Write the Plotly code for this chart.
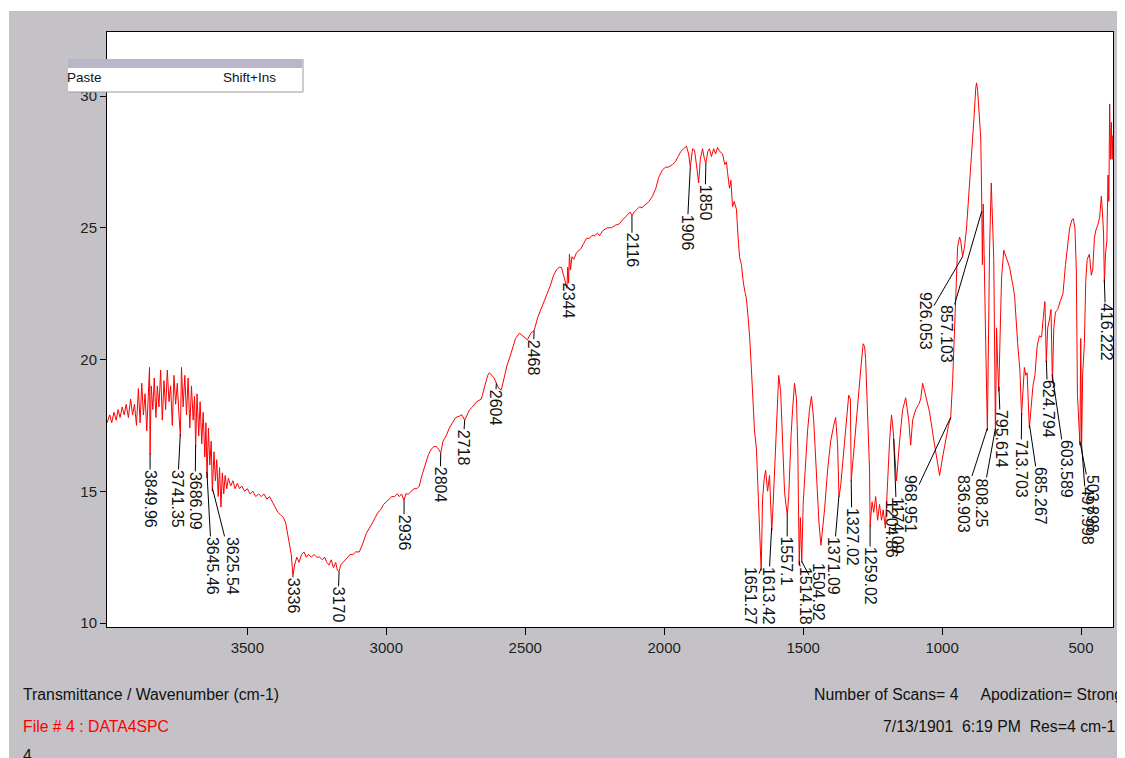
import numpy as np
import plotly.graph_objects as go

# ---------------- data ----------------
wavenumber = [
    4005, 3995, 3988, 3980, 3972, 3965, 3958, 3950, 3943, 3936, 3928, 3920, 3913, 3906, 3899,
    3892, 3886, 3880, 3874, 3868, 3862, 3856, 3852, 3850, 3846, 3840, 3835, 3829, 3824, 3818,
    3812, 3806, 3800, 3794, 3788, 3782, 3776, 3770, 3764, 3758, 3752, 3746, 3741, 3737, 3731,
    3725, 3719, 3713, 3707, 3701, 3695, 3690, 3686, 3681, 3675, 3670, 3664, 3659, 3653, 3649,
    3645, 3640, 3635, 3630, 3626, 3620, 3615, 3610, 3605, 3600, 3595, 3590, 3585, 3580, 3574,
    3568, 3560, 3552, 3544, 3536, 3528, 3520, 3510, 3500, 3490, 3480, 3470, 3460, 3450, 3440,
    3430, 3420, 3410, 3400, 3390, 3380, 3370, 3362, 3355, 3348, 3342, 3336, 3330, 3322, 3314,
    3305, 3296, 3288, 3280, 3270, 3260, 3250, 3240, 3230, 3222, 3214, 3206, 3198, 3190, 3182,
    3176, 3170, 3164, 3156, 3148, 3140, 3130, 3120, 3110, 3097, 3085, 3072, 3060, 3050, 3040,
    3030, 3020, 3010, 3000, 2990, 2980, 2970, 2960, 2953, 2945, 2936, 2930, 2920, 2910, 2900,
    2890, 2881, 2872, 2864, 2856, 2848, 2838, 2828, 2820, 2812, 2804, 2796, 2785, 2773, 2762,
    2750, 2737, 2728, 2718, 2710, 2700, 2690, 2675, 2658, 2645, 2635, 2629, 2620, 2612, 2604,
    2595, 2586, 2575, 2565, 2555, 2546, 2535, 2521, 2510, 2500, 2492, 2480, 2468, 2455, 2440,
    2424, 2410, 2398, 2388, 2378, 2370, 2362, 2355, 2350, 2347, 2344, 2341, 2337, 2332, 2325,
    2316, 2300, 2290, 2280, 2270, 2260, 2250, 2240, 2233, 2220, 2205, 2190, 2175, 2161, 2150,
    2140, 2130, 2122, 2116, 2108, 2098, 2089, 2080, 2072, 2064, 2055, 2042, 2030, 2020, 2010,
    2006, 1995, 1985, 1970, 1960, 1950, 1940, 1930, 1920, 1912, 1906, 1898, 1891, 1884, 1876,
    1870, 1862, 1855, 1850, 1843, 1837, 1830, 1822, 1815, 1808, 1800, 1790, 1782, 1776, 1772,
    1765, 1760, 1754, 1748, 1740, 1735, 1729, 1722, 1715, 1708, 1704, 1698, 1692, 1686, 1680,
    1675, 1668, 1662, 1657, 1651, 1646, 1640, 1635, 1628, 1621, 1617, 1613, 1608, 1603, 1596,
    1588, 1581, 1574, 1567, 1562, 1557, 1552, 1549, 1543, 1538, 1531, 1524, 1519, 1517, 1514,
    1510, 1505, 1500, 1495, 1488, 1484, 1477, 1470, 1462, 1452, 1443, 1436, 1430, 1423, 1412,
    1401, 1390, 1383, 1376, 1371, 1365, 1358, 1347, 1336, 1330, 1327, 1322, 1315, 1304, 1293,
    1284, 1279, 1275, 1268, 1261, 1259, 1252, 1246, 1239, 1232, 1225, 1218, 1212, 1204, 1196,
    1189, 1182, 1176, 1171, 1164, 1153, 1142, 1131, 1120, 1113, 1106, 1095, 1084, 1077, 1070,
    1063, 1056, 1045, 1030, 1020, 1009, 998, 987, 977, 969, 962, 955, 948, 944, 937,
    933, 926, 919, 912, 903, 894, 885, 879, 876, 872, 866, 861, 858, 855, 852,
    848, 843, 837, 833, 829, 823, 818, 814, 808, 804, 800, 796, 791, 786, 778,
    770, 757, 745, 739, 728, 720, 714, 708, 704, 699, 694, 686, 680, 673, 666,
    658, 650, 642, 636, 630, 625, 620, 614, 608, 603, 598, 592, 584, 575, 565,
    556, 548, 541, 533, 528, 522, 517, 513, 504, 501, 498, 494, 488, 483, 478,
    470, 463, 458, 452, 447, 440, 433, 427, 423, 419, 416, 412, 407, 403, 400,
    397, 394, 391, 388, 386,
]
transmittance = [
    17.6, 17.9, 17.6, 18.0, 17.7, 18.1, 17.8, 18.2, 17.9, 18.3, 17.8, 18.5, 17.9, 18.3, 17.5,
    18.9, 17.6, 19.1, 17.9, 18.7, 17.3, 18.5, 19.7, 16.4, 19.0, 18.1, 19.3, 17.8, 19.0, 18.2,
    19.6, 17.7, 19.2, 18.1, 19.6, 18.4, 19.0, 17.5, 19.4, 18.3, 19.1, 17.9, 17.1, 19.7, 18.2,
    19.4, 17.9, 19.3, 17.4, 19.0, 17.7, 18.6, 16.7, 18.7, 17.1, 18.4, 16.8, 18.0, 16.3, 17.6,
    15.5, 17.4, 16.0, 16.9, 15.0, 16.5, 15.4, 16.2, 14.8, 15.9, 14.4, 15.7, 14.9, 15.6, 15.1,
    15.5, 15.2, 15.4, 15.1, 15.3, 15.1, 15.2, 15.0, 15.1, 14.9, 15.0, 14.8, 14.9, 14.8, 14.9,
    14.7, 14.8, 14.6, 14.4, 14.2, 14.1, 14.0, 13.8, 13.4, 13.0, 12.6, 11.8, 12.2, 12.5, 12.3,
    12.6, 12.7, 12.5, 12.6, 12.5, 12.6, 12.5, 12.5, 12.4, 12.5, 12.3, 12.2, 12.4, 12.1, 12.3,
    12.0, 11.95, 12.2, 12.3, 12.4, 12.5, 12.6, 12.6, 12.7, 12.7, 13.0, 13.4, 13.6, 13.8, 14.0,
    14.2, 14.3, 14.5, 14.6, 14.7, 14.8, 14.8, 14.9, 14.8, 14.9, 14.65, 14.9, 14.9, 15.0, 15.1,
    15.1, 15.2, 15.6, 15.9, 16.2, 16.4, 16.6, 16.7, 16.7, 16.6, 16.45, 16.9, 17.1, 17.4, 17.6,
    17.8, 17.85, 17.9, 17.7, 17.9, 18.1, 18.2, 18.4, 18.5, 19.0, 19.4, 19.5, 19.4, 19.3, 19.1,
    18.9, 18.85, 19.4, 19.8, 20.1, 20.4, 20.8, 21.0, 20.9, 20.8, 20.75, 21.0, 21.1, 21.6, 22.0,
    22.4, 22.8, 23.2, 23.4, 23.5, 23.5, 23.2, 22.9, 22.7, 23.5, 22.9, 24.0, 23.4, 23.9, 23.8,
    24.05, 24.2, 24.4, 24.6, 24.6, 24.7, 24.7, 24.8, 24.7, 24.9, 25.0, 25.0, 25.1, 25.15, 25.3,
    25.4, 25.5, 25.6, 25.45, 25.6, 25.7, 25.8, 25.75, 25.85, 25.9, 26.0, 26.2, 26.5, 26.9, 27.1,
    27.2, 27.3, 27.3, 27.4, 27.5, 27.7, 27.9, 28.0, 28.1, 27.8, 27.3, 28.0, 27.95, 27.4, 26.7,
    27.6, 28.0, 27.6, 27.45, 27.9, 28.0, 27.7, 28.0, 27.8, 28.05, 27.9, 27.8, 27.4, 27.5, 27.1,
    26.5, 26.8, 25.8, 26.0, 25.7, 24.8, 23.9, 23.6, 22.9, 22.5, 22.3, 21.6, 20.8, 19.6, 18.5,
    17.3, 16.6, 15.0, 13.5, 12.0, 14.7, 15.5, 15.8, 15.0, 15.6, 14.5, 13.5, 14.5, 15.8, 17.7,
    19.4, 18.8, 16.9, 15.0, 14.5, 14.1, 14.8, 15.8, 17.2, 18.1, 19.1, 18.5, 16.5, 14.6, 12.2,
    14.0, 12.3, 14.5, 15.4, 16.6, 17.3, 18.1, 18.6, 17.7, 15.4, 13.8, 12.95, 13.5, 14.3, 15.8,
    16.9, 17.5, 17.8, 16.75, 14.8, 15.2, 16.0, 17.3, 18.65, 18.5, 15.4, 16.0, 16.9, 18.5, 19.6,
    20.6, 20.5, 20.0, 18.1, 15.8, 13.7, 14.6, 14.2, 14.8, 13.9, 14.5, 13.9, 14.3, 13.6, 15.4,
    16.9, 17.9, 17.3, 16.5, 15.4, 16.9, 18.1, 18.55, 17.7, 16.75, 17.7, 18.1, 18.3, 18.5, 19.1,
    18.8, 18.5, 18.0, 16.95, 16.3, 15.6, 16.3, 16.95, 17.5, 17.8, 19.2, 21.2, 23.5, 24.3, 24.65,
    24.5, 23.9, 24.3, 25.0, 26.3, 27.6, 29.2, 30.3, 30.5, 30.2, 29.4, 28.4, 26.5, 23.6, 25.9,
    24.0, 20.6, 17.3, 21.5, 24.3, 26.7, 25.0, 23.8, 17.1, 21.2, 19.8, 18.8, 21.0, 23.1, 24.15,
    23.9, 23.5, 22.8, 22.4, 20.6, 19.6, 17.9, 19.3, 19.7, 19.4, 19.5, 17.4, 18.3, 19.0, 19.4,
    20.5, 20.9, 20.85, 21.6, 22.2, 19.9, 21.2, 21.5, 21.9, 19.1, 21.2, 21.8, 21.9, 22.2, 22.5,
    23.6, 24.4, 25.0, 25.3, 25.35, 25.0, 23.4, 18.7, 16.75, 20.8, 16.75, 19.5, 20.6, 23.0, 23.8,
    24.0, 23.2, 23.4, 24.6, 24.9, 25.1, 25.4, 26.2, 25.6, 24.8, 22.9, 24.0, 24.5, 27.0, 26.0,
    29.7, 27.6, 29.0, 27.6, 28.5,
]

peak_labels = [
    "3849.96", "3741.35", "3686.09", "3645.46", "3625.54", "3336", "3170", "2936",
    "2804", "2718", "2604", "2468", "2344", "2116", "1906", "1850",
    "1651.27", "1613.42", "1557.1", "1514.18", "1504.92", "1371.09", "1327.02", "1259.02",
    "1204.86", "1174.09", "968.951", "926.053", "857.103", "836.903", "808.25", "795.614",
    "713.703", "685.267", "624.794", "603.589", "503.898", "497.998", "416.222",
]
peak_wn = [
    3849.96, 3741.35, 3686.09, 3645.46, 3625.54, 3336, 3170, 2936,
    2804, 2718, 2604, 2468, 2344, 2116, 1906, 1850,
    1651.27, 1613.42, 1557.1, 1514.18, 1504.92, 1371.09, 1327.02, 1259.02,
    1204.86, 1174.09, 968.951, 926.053, 857.103, 836.903, 808.25, 795.614,
    713.703, 685.267, 624.794, 603.589, 503.898, 497.998, 416.222,
]

x_ticks = [3500, 3000, 2500, 2000, 1500, 1000, 500]
y_ticks = [10, 15, 20, 25, 30]

# label placement (screen pixels of the 1125x758 page): text centre x, text top y
label_cx = [150, 177, 195, 212, 232, 293, 338, 404,
            440, 463, 495, 533, 568, 632, 687, 705,
            750, 768, 787, 805, 818, 833, 852, 870,
            891, 897, 910, 925, 946, 963, 982, 1001,
            1021, 1040, 1048, 1066, 1092, 1087, 1106]
label_top = [470, 470, 472, 537, 537, 578, 587, 515,
             467, 430, 390, 340, 283, 233, 215, 185,
             567, 567, 537, 567, 563, 537, 508, 547,
             500, 497, 475, 292, 305, 475, 478, 410,
             440, 467, 380, 440, 475, 487, 303]

# ---------------- geometry ----------------
OFF = 8                      # the page body margin of the browser
W, H = 1125 - OFF, 758 - OFF
PLOT_L, PLOT_R, PLOT_T, PLOT_B = 107, 1113, 32, 627   # page pixels
X_RANGE = [4005, 385]
Y_RANGE = [9.85, 32.43]
PW, PH = PLOT_R - PLOT_L, PLOT_B - PLOT_T


def px_x(p):
    return (p - PLOT_L) / PW


def px_y(p):
    return (PLOT_B - p) / PH


def data_px_x(v):
    return PLOT_L + (X_RANGE[0] - v) / (X_RANGE[0] - X_RANGE[1]) * PW


def data_px_y(v):
    return PLOT_B - (v - Y_RANGE[0]) / (Y_RANGE[1] - Y_RANGE[0]) * PH


GRAY = "#C4C2C6"
FONT = "Liberation Sans, Arial, sans-serif"

fig = go.Figure()
fig.add_trace(go.Scatter(x=wavenumber, y=transmittance, mode="lines",
                         line=dict(color="#FF0000", width=1), hoverinfo="skip",
                         showlegend=False))

wn_asc = np.array(wavenumber[::-1], dtype=float)
t_asc = np.array(transmittance[::-1], dtype=float)

LABEL_SIZE = 16
annotations = []
for txt, wn, cx, top in zip(peak_labels, peak_wn, label_cx, label_top):
    tval = float(np.interp(wn, wn_asc, t_asc))
    length = sum(0.278 if c == "." else 0.556 for c in txt) * LABEL_SIZE
    px0, py0 = data_px_x(wn), data_px_y(tval)
    annotations.append(dict(
        x=wn, y=tval, xref="x", yref="y", text=txt, textangle=90,
        showarrow=True, arrowhead=0, arrowwidth=1, arrowcolor="#000000",
        standoff=0, ax=cx - px0, ay=top + length / 2 - py0, borderpad=0,
        font=dict(family=FONT, size=LABEL_SIZE, color="#111111"),
    ))


def ptext(txt, x, y, color="#111111", size=15.8, anchor="left"):
    return dict(x=px_x(x), y=px_y(y), xref="paper", yref="paper", text=txt,
                showarrow=False, xanchor=anchor, yanchor="middle",
                font=dict(family=FONT, size=size, color=color))


nb = "\u00a0"
annotations += [
    ptext("Transmittance / Wavenumber (cm-1)", 21, 694),
    ptext("File # 4 : DATA4SPC", 21, 726, color="#FF0000"),
    ptext("4", 21, 755),
    ptext("Number of Scans= 4" + nb * 5 + "Apodization= Strong", 812, 694),
    ptext("7/13/1901" + nb * 2 + "6:19 PM" + nb * 2 + "Res=4 cm-1", 1117, 726, anchor="right"),
    ptext("Paste", 65, 78, size=13.5),
    ptext("Shift+Ins", 221, 78, size=13.5),
]


def prect(x0, y0, x1, y1, fill, layer="above"):
    return dict(type="rect", xref="paper", yref="paper",
                x0=px_x(x0), x1=px_x(x1), y0=px_y(y1), y1=px_y(y0),
                fillcolor=fill, line=dict(width=0), layer=layer)


def pline(x0, y0, x1, y1, color):
    return dict(type="line", xref="paper", yref="paper", x0=px_x(x0), x1=px_x(x1),
                y0=px_y(y0), y1=px_y(y1), line=dict(color=color, width=1), layer="above")


shapes = [
    prect(0, 0, 1130, 11, "#FFFFFF"),
    prect(0, 0, 9, 763, "#FFFFFF"),
    prect(68, 59, 302, 68, "#BAB6CA"),
    prect(68, 68, 303, 92, "#FFFFFF"),
    pline(303, 59, 303, 92, "#9A9A9A"),
    pline(68, 92, 303, 92, "#9A9A9A"),
]

axis_common = dict(showline=True, linecolor="#000000", linewidth=1, mirror=True,
                   showgrid=False, zeroline=False, ticks="outside", tickcolor="#000000",
                   tickwidth=1, tickfont=dict(family=FONT, size=15, color="#1e1e1e"))

fig.update_layout(
    width=W, height=H, autosize=False,
    margin=dict(l=PLOT_L - OFF, r=W - (PLOT_R - OFF), t=PLOT_T - OFF,
                b=H - (PLOT_B - OFF), pad=0),
    paper_bgcolor=GRAY, plot_bgcolor="#FFFFFF",
    xaxis=dict(range=X_RANGE, tickvals=x_ticks, ticklen=7, **axis_common),
    yaxis=dict(range=Y_RANGE, tickvals=y_ticks, ticklen=6, **axis_common),
    annotations=annotations, shapes=shapes, showlegend=False,
)

fig.write_html("out.html")
